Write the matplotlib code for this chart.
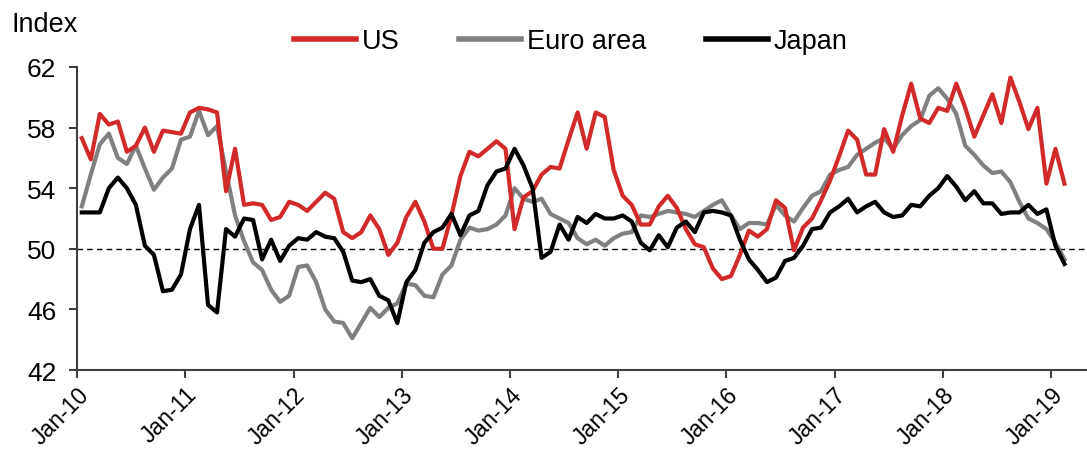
import numpy as np
import matplotlib
matplotlib.use("Agg")
import matplotlib.pyplot as plt

plt.rcParams['font.family'] = ['Liberation Sans', 'DejaVu Sans']

# monthly PMI readings, Jan-10 .. Feb-19
us = [57.3, 55.9, 58.9, 58.2, 58.4, 56.4, 56.8, 58.0, 56.4, 57.8, 57.7, 57.6,
      59.0, 59.3, 59.2, 59.0, 53.8, 56.6, 52.9, 53.0, 52.9, 51.9, 52.1, 53.1,
      52.9, 52.5, 53.1, 53.7, 53.3, 51.1, 50.7, 51.1, 52.2, 51.3, 49.6, 50.4,
      52.1, 53.1, 51.8, 50.0, 50.0, 52.2, 54.8, 56.4, 56.1, 56.6, 57.1, 56.6,
      51.3, 53.4, 53.8, 54.9, 55.4, 55.3, 57.2, 59.0, 56.6, 59.0, 58.7, 55.2,
      53.5, 52.9, 51.6, 51.6, 52.8, 53.5, 52.7, 51.3, 50.3, 50.1, 48.7, 48.0,
      48.2, 49.6, 51.2, 50.8, 51.3, 53.2, 52.7, 49.9, 51.4, 52.0, 53.2, 54.5,
      56.1, 57.8, 57.2, 54.9, 54.9, 57.9, 56.4, 58.8, 60.9, 58.6, 58.3, 59.3,
      59.1, 60.9, 59.3, 57.4, 58.8, 60.2, 58.3, 61.3, 59.7, 57.9, 59.3, 54.3,
      56.6, 54.3]
euro = [52.8, 54.9, 56.9, 57.6, 56.0, 55.6, 56.8, 55.3, 53.9, 54.7, 55.3, 57.2,
        57.4, 59.1, 57.5, 58.1, 55.1, 52.2, 50.5, 49.1, 48.6, 47.3, 46.5, 46.9,
        48.8, 48.9, 47.8, 46.0, 45.2, 45.1, 44.1, 45.1, 46.1, 45.5, 46.1, 46.4,
        47.7, 47.6, 46.9, 46.8, 48.3, 48.9, 50.6, 51.4, 51.2, 51.3, 51.6, 52.2,
        54.0, 53.3, 53.1, 53.3, 52.3, 52.0, 51.7, 50.7, 50.3, 50.6, 50.2, 50.7,
        51.0, 51.1, 52.2, 52.1, 52.3, 52.5, 52.4, 52.3, 52.1, 52.5, 52.9, 53.2,
        52.2, 51.3, 51.7, 51.7, 51.6, 52.9, 52.2, 51.8, 52.7, 53.5, 53.8, 54.9,
        55.2, 55.4, 56.2, 56.6, 57.0, 57.3, 56.6, 57.5, 58.1, 58.5, 60.1, 60.6,
        59.9, 58.9, 56.8, 56.2, 55.5, 55.0, 55.1, 54.4, 53.1, 52.0, 51.7, 51.3,
        50.4, 49.3]
japan = [52.4, 52.4, 52.4, 54.0, 54.7, 54.0, 52.9, 50.2, 49.6, 47.2, 47.3, 48.3,
         51.3, 52.9, 46.3, 45.8, 51.3, 50.8, 52.0, 51.9, 49.3, 50.6, 49.2, 50.2,
         50.7, 50.6, 51.1, 50.8, 50.7, 49.8, 47.9, 47.8, 48.0, 46.9, 46.6, 45.1,
         47.8, 48.6, 50.4, 51.1, 51.4, 52.3, 50.9, 52.2, 52.5, 54.2, 55.1, 55.3,
         56.6, 55.5, 54.0, 49.4, 49.8, 51.6, 50.6, 52.1, 51.7, 52.3, 52.0, 52.0,
         52.2, 51.8, 50.4, 49.9, 50.9, 50.1, 51.4, 51.8, 51.1, 52.4, 52.5, 52.4,
         52.2, 50.6, 49.3, 48.6, 47.8, 48.1, 49.2, 49.4, 50.2, 51.3, 51.4, 52.4,
         52.8, 53.3, 52.4, 52.8, 53.1, 52.4, 52.1, 52.2, 52.9, 52.8, 53.5, 54.0,
         54.8, 54.1, 53.2, 53.8, 53.0, 53.0, 52.3, 52.4, 52.4, 52.9, 52.3, 52.6,
         50.2, 49.0]
tick_labels = ['Jan-10', 'Jan-11', 'Jan-12', 'Jan-13', 'Jan-14',
               'Jan-15', 'Jan-16', 'Jan-17', 'Jan-18', 'Jan-19']

x = np.arange(len(us)) + 0.5

fig = plt.figure(figsize=(10.87, 4.52), dpi=100)
ax = fig.add_axes([0.0711, 0.1792, 0.9289, 0.6704])

ax.axhline(50, color='black', lw=1, ls=(0, (4, 3)), zorder=1)
ax.plot(x, us, color='#d22a2a', lw=3, label='US', zorder=3)
ax.plot(x, euro, color='#808080', lw=3, label='Euro area', zorder=2)
ax.plot(x, japan, color='black', lw=3, label='Japan', zorder=4)

ax.set_ylim(42, 62)
ax.set_yticks([42, 46, 50, 54, 58, 62])
ax.set_xlim(0, 112)
ax.set_xticks(np.arange(0, 109, 12))
ax.set_xticklabels(tick_labels, rotation=45, ha='right', rotation_mode='anchor')

ax.tick_params(axis='both', direction='out', length=6,
               color='#404040', width=1.5)
ax.tick_params(axis='y', labelsize=19, pad=9)
ax.tick_params(axis='x', labelsize=16.5, pad=3)
ax.spines['top'].set_visible(False)
ax.spines['right'].set_visible(False)
for s in ['left', 'bottom']:
    ax.spines[s].set_color('#404040')
    ax.spines[s].set_linewidth(1.5)

fig.text(12 / 1087, 1 - 25 / 452, 'Index', fontsize=19.5, va='center', ha='left')
leg = fig.legend(loc='center', bbox_to_anchor=(0.525, 0.907), ncol=3, frameon=False,
                 fontsize=19.5, handlelength=2.3, handletextpad=0.2, columnspacing=2.2)
for h in leg.get_lines():
    h.set_linewidth(4)

fig.savefig('out.png', dpi=100)
